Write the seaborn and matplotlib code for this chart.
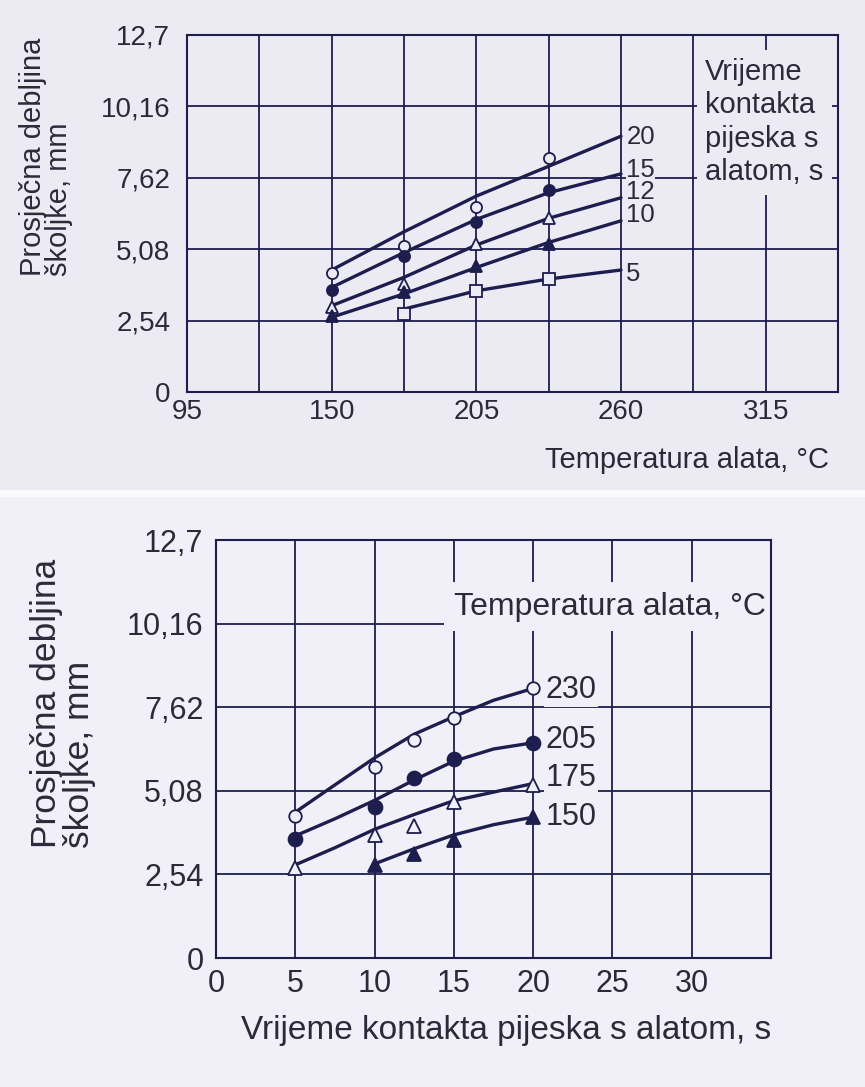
import numpy as np
import pandas as pd
import matplotlib
matplotlib.use('Agg')
import matplotlib.pyplot as plt
from matplotlib.patches import Rectangle
import seaborn as sns

# --- data ---
# top chart: shell thickness vs tool temperature, one curve per contact time
temp_points = [150, 177.5, 205, 232.5]
temp_curve = [150, 177.5, 205, 232.5, 260]
t20_points = [4.25, 5.20, 6.58, 8.31]
t20_curve = [4.34, 5.70, 6.97, 8.03, 9.10]
t15_points = [3.63, 4.84, 6.06, 7.17]
t15_curve = [3.72, 4.96, 6.14, 7.09, 7.76]
t12_points = [3.01, 3.84, 5.26, 6.18]
t12_curve = [3.07, 4.08, 5.23, 6.18, 6.91]
t10_points = [2.69, 3.54, 4.49, 5.26]
t10_curve = [2.66, 3.49, 4.43, 5.32, 6.09]
temp_points_5 = [177.5, 205, 232.5]
temp_curve_5 = [177.5, 205, 232.5, 260]
t5_points = [2.78, 3.60, 4.02]
t5_curve = [2.95, 3.60, 4.02, 4.34]

# bottom chart: shell thickness vs contact time, one curve per tool temperature
time_points = [5, 10, 12.5, 15, 20]
time_curve = [5, 7.5, 10, 12.5, 15, 17.5, 20]
c230_points = [4.30, 5.80, 6.61, 7.28, 8.19]
c230_curve = [4.43, 5.26, 6.08, 6.80, 7.33, 7.83, 8.19]
c205_points = [3.63, 4.60, 5.47, 6.05, 6.54]
c205_curve = [3.71, 4.23, 4.79, 5.41, 5.98, 6.35, 6.54]
c175_points = [2.73, 3.74, 4.00, 4.73, 5.26]
c175_curve = [2.83, 3.35, 3.91, 4.36, 4.78, 5.04, 5.30]
time_points_150 = [10, 12.5, 15, 20]
time_curve_150 = [10, 12.5, 15, 17.5, 20]
c150_points = [2.83, 3.17, 3.57, 4.28]
c150_curve = [2.86, 3.32, 3.74, 4.05, 4.28]

y_ticks = [0, 2.54, 5.08, 7.62, 10.16, 12.7]
y_tick_labels = ['0', '2,54', '5,08', '7,62', '10,16', '12,7']
temp_ticks = [95, 150, 205, 260, 315]
time_ticks = [0, 5, 10, 15, 20, 25, 30]


def draw_series(ax, xp, yp, xc, yc, marker, filled, ms, face_bg):
    # curve
    sns.lineplot(x=xc, y=yc, ax=ax, color=INK, linewidth=2.4, zorder=3)
    # measured points
    face = INK if filled else face_bg
    sns.lineplot(x=xp, y=yp, ax=ax, color=INK, linestyle='none', marker=marker,
                 markersize=ms, markerfacecolor=face, markeredgecolor=INK,
                 markeredgewidth=1.3, zorder=4)


def style_axes(ax, bg, fs_ticks, pad_x, pad_y):
    ax.set_facecolor(bg)
    ax.set_axisbelow(True)
    ax.grid(True, which='both', color=INK, linewidth=1.3)
    ax.set_yticks(y_ticks)
    ax.set_yticklabels(y_tick_labels)
    ax.set_ylim(0, 12.7)
    ax.tick_params(which='both', length=0, labelsize=fs_ticks, colors=TXT)
    ax.tick_params(axis='x', pad=pad_x)
    ax.tick_params(axis='y', pad=pad_y)
    for s in ax.spines.values():
        s.set_color(INK)
        s.set_linewidth(1.5)
        s.set_visible(True)
    ax.set_xlabel('')
    ax.set_ylabel('')


sns.set_theme(style='white')
plt.rcParams['font.family'] = ['Liberation Sans', 'DejaVu Sans']

BG = '#ECEAF3'
BG2 = '#F1EFF7'
INK = '#1D1D4E'
TXT = '#2A2A3A'

fig = plt.figure(figsize=(8.65, 10.87), dpi=100, facecolor=BG)
# slightly lighter lower scan and the white seam between the two scans
fig.patches.append(Rectangle((0, 0), 1, 1 - 497 / 1087, transform=fig.transFigure,
                             facecolor=BG2, edgecolor='none', zorder=-2))
fig.patches.append(Rectangle((0, 1 - 497 / 1087), 1, 7 / 1087, transform=fig.transFigure,
                             facecolor='#FBFAFD', edgecolor='none', zorder=-1))

# --- top chart ---
ax1 = fig.add_axes([187 / 865, 1 - 392 / 1087, 651 / 865, 357 / 1087])
draw_series(ax1, temp_points, t20_points, temp_curve, t20_curve, 'o', False, 8, BG)
draw_series(ax1, temp_points, t15_points, temp_curve, t15_curve, 'o', True, 8, BG)
draw_series(ax1, temp_points, t12_points, temp_curve, t12_curve, '^', False, 8, BG)
draw_series(ax1, temp_points, t10_points, temp_curve, t10_curve, '^', True, 8, BG)
draw_series(ax1, temp_points_5, t5_points, temp_curve_5, t5_curve, 's', False, 8, BG)
style_axes(ax1, BG, 20, 5, 12)
ax1.set_xlim(95, 342.5)
ax1.set_xticks(temp_ticks)
ax1.set_xticks(np.arange(122.5, 342.5, 55), minor=True)

top_labels = [('20', t20_curve[-1], 0.05), ('15', t15_curve[-1], 0.24),
              ('12', t12_curve[-1], 0.29), ('10', t10_curve[-1], 0.31),
              ('5', t5_curve[-1], -0.04)]
for lab, yv, dy in top_labels:
    ax1.text(262, yv + dy, lab, fontsize=18.5, color=TXT, ha='left', va='center_baseline',
             zorder=2, bbox=dict(facecolor=BG, edgecolor='none', pad=0))

ax1.text(0.796, 0.935, 'Vrijeme\nkontakta\npijeska s\nalatom, s', transform=ax1.transAxes,
         fontsize=21, color=TXT, ha='left', va='top', linespacing=1.24, zorder=2,
         bbox=dict(facecolor=BG, edgecolor='none', pad=6))

fig.text(829 / 865, 1 - 460 / 1087, 'Temperatura alata, °C', fontsize=21, color=TXT,
         ha='right', va='center')
fig.text(46 / 865, 1 - 276 / 1087, 'Prosječna debljina\nškoljke, mm', rotation=90,
         fontsize=21, color=TXT, ha='center', va='bottom', multialignment='left',
         linespacing=0.95)

# --- bottom chart ---
ax2 = fig.add_axes([216 / 865, 1 - 958 / 1087, 555 / 865, 418 / 1087])
draw_series(ax2, time_points, c230_points, time_curve, c230_curve, 'o', False, 9, BG2)
draw_series(ax2, time_points, c205_points, time_curve, c205_curve, 'o', True, 10, BG2)
draw_series(ax2, time_points, c175_points, time_curve, c175_curve, '^', False, 10, BG2)
draw_series(ax2, time_points_150, c150_points, time_curve_150, c150_curve, '^', True, 10, BG2)
style_axes(ax2, BG2, 22, 8, 9)
ax2.set_xlim(0, 35)
ax2.set_xticks(time_ticks)

bottom_labels = [('230', c230_curve[-1], -0.05), ('205', c205_curve[-1], 0.08),
                 ('175', c175_curve[-1], 0.17), ('150', c150_curve[-1], 0.0)]
for lab, yv, dy in bottom_labels:
    ax2.text(20.8, yv + dy, lab, fontsize=22, color=TXT, ha='left', va='center',
             zorder=2, bbox=dict(facecolor=BG2, edgecolor='none', pad=1))

ax2.text(0.991, 0.84, 'Temperatura alata, °C', transform=ax2.transAxes, fontsize=23,
         color=TXT, ha='right', va='center', zorder=2,
         bbox=dict(facecolor=BG2, edgecolor='none', pad=7))

fig.text(506 / 865, 1 - 1030 / 1087, 'Vrijeme kontakta pijeska s alatom, s', fontsize=24,
         color=TXT, ha='center', va='center')
fig.text(63 / 865, 1 - 848 / 1087, 'Prosječna debljina\nškoljke, mm', rotation=90,
         fontsize=25.5, color=TXT, ha='center', va='bottom', multialignment='left',
         linespacing=1.0)

fig.savefig('out.png', dpi=100, facecolor=fig.get_facecolor())
plt.close(fig)
